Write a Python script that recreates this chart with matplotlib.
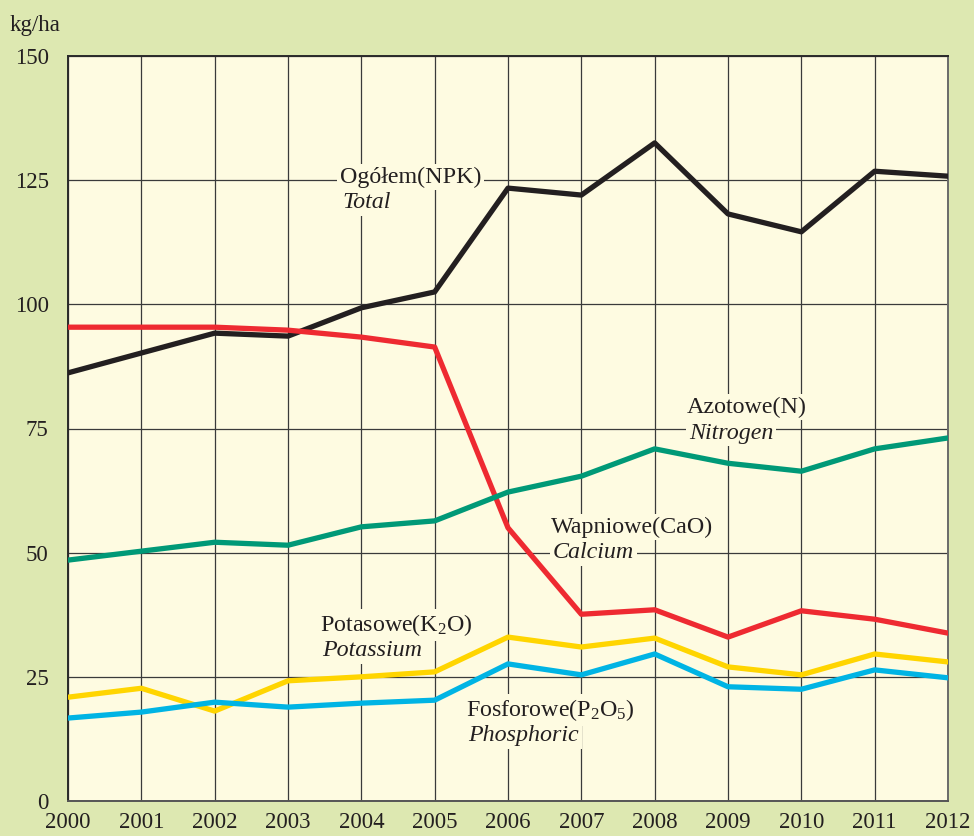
import matplotlib
matplotlib.use("Agg")
import matplotlib.pyplot as plt

plt.rcParams['font.family'] = ['Liberation Serif', 'DejaVu Serif']
plt.rcParams['mathtext.fontset'] = 'custom'
plt.rcParams['mathtext.rm'] = 'Liberation Serif'
plt.rcParams['mathtext.it'] = 'Liberation Serif:italic'

years = list(range(2000, 2013))
total_npk = [86.2, 90.2, 94.2, 93.6, 99.3, 102.5, 123.4, 122.0, 132.5, 118.2, 114.6, 126.8, 125.8]
calcium = [95.4, 95.4, 95.4, 94.8, 93.4, 91.4, 55.0, 37.6, 38.5, 33.0, 38.3, 36.6, 33.8]
nitrogen = [48.5, 50.3, 52.1, 51.5, 55.2, 56.4, 62.2, 65.4, 70.9, 68.0, 66.4, 70.9, 73.1]
potassium = [20.9, 22.7, 18.1, 24.2, 25.0, 26.0, 33.0, 31.0, 32.8, 27.0, 25.4, 29.6, 28.0]
phosphoric = [16.7, 17.9, 19.9, 18.9, 19.7, 20.3, 27.6, 25.4, 29.6, 23.0, 22.5, 26.4, 24.8]
y_ticks = [0, 25, 50, 75, 100, 125, 150]

FIG_BG = '#DDE8B1'
AX_BG = '#FEFBE1'

W, H = 974, 836
fig = plt.figure(figsize=(W / 100, H / 100), dpi=100, facecolor=FIG_BG)
L, R, T, B = 68, 948, 56, 801
ax = fig.add_axes([L / W, (H - B) / H, (R - L) / W, (B - T) / H])
ax.set_facecolor(AX_BG)

ax.set_xlim(2000, 2012)
ax.set_ylim(0, 150)
ax.set_xticks(years)
ax.set_yticks(y_ticks)
ax.tick_params(axis='both', length=0, labelsize=16.5, colors='#231F20')
ax.tick_params(axis='x', pad=8)
ax.tick_params(axis='y', pad=14)
ax.grid(True, color='#3A3A3A', linewidth=0.9, zorder=1)
ax.set_axisbelow(True)
for s in ax.spines.values():
    s.set_color('#2A2A2A')
    s.set_linewidth(1.4)
ax.spines['right'].set_color('#6A6A6A')
ax.spines['bottom'].set_color('#555555')

lw = 3.8
style = dict(lw=lw, zorder=4, solid_capstyle='round', solid_joinstyle='round')
ax.plot(years, total_npk, color='#231F20', **style)
ax.plot(years, calcium, color='#EE2A31', **style)
ax.plot(years, nitrogen, color='#009977', **style)
ax.plot(years, potassium, color='#FFD500', **style)
ax.plot(years, phosphoric, color='#00B4E4', **style)

box = dict(facecolor=AX_BG, edgecolor='none', pad=2)
LFS = 17.3

def label(x_px, y_px, main, sub):
    fx, fy = x_px / W, 1 - y_px / H
    fig.text(fx, fy, main, fontsize=LFS, color='#231F20', va='center', ha='left',
             bbox=box, zorder=3)
    fig.text(fx + 2 / W, fy - 26 / H, sub, fontsize=LFS, color='#231F20', va='center',
             ha='left', style='italic', bbox=box, zorder=3)

label(340, 177, 'Ogółem(NPK)', 'Total')
label(687, 407, 'Azotowe(N)', 'Nitrogen')
label(551, 527, 'Wapniowe(CaO)', 'Calcium')
label(320, 625, 'Potasowe(K$_2$O)', 'Potassium')
label(466, 710, 'Fosforowe(P$_2$O$_5$)', 'Phosphoric')

fig.text(10 / W, 1 - 25 / H, 'kg/ha', fontsize=16.5, color='#231F20', va='center', ha='left')

fig.savefig('out.png', dpi=100, facecolor=FIG_BG)
